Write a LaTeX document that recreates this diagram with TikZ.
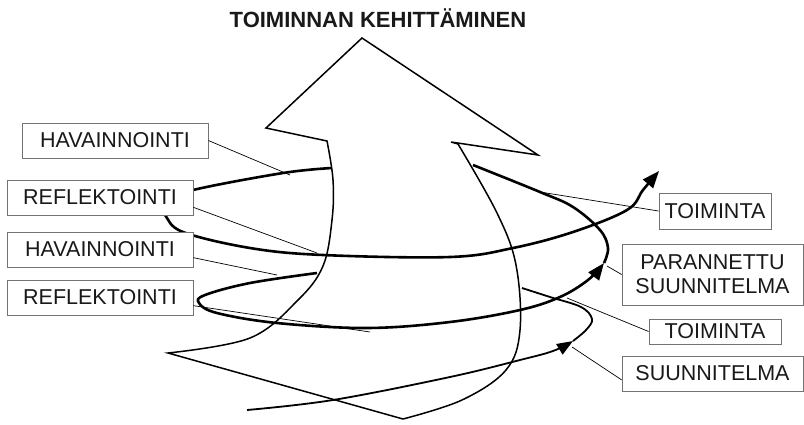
\documentclass[tikz,border=0pt]{standalone}
\usepackage{fontspec}
\setmainfont{Liberation Sans}
\usetikzlibrary{arrows.meta}

\begin{document}
\begin{tikzpicture}[
  x=1pt, y=-1pt,
  box/.style={draw=black!55, fill=white, line width=0.8pt, text=black!90,
              font=\fontsize{21.5}{24}\selectfont, inner sep=2pt, align=center},
  outline/.style={line width=1.5pt, line join=miter},
  loop/.style={line width=2.6pt},
  lowloop/.style={line width=1.8pt},
  leader/.style={line width=0.7pt},
  tip/.style={-{Triangle[length=17pt,width=13pt]}},
  smalltip/.style={-{Triangle[length=16pt,width=12pt]}}
]
\useasboundingbox (0,0) rectangle (804,424);

% === Title ===
\node[font=\fontsize{22}{26}\selectfont\bfseries, text=black!90, anchor=base] (title) at (378,27) {TOIMINNAN KEHITTÄMINEN};

% === Big arrow outline ===
\draw[outline] (403,419) -- (168,353)
  -- plot[smooth, tension=0.6] coordinates {(168,353) (250,338) (298,300) (323,266) (332,220) (333,180) (327,141)}
  -- (266,128) -- (362,38) -- (538,155) -- (451,142)
  -- plot[smooth, tension=0.6] coordinates {(458,144) (497,213) (516,265) (520,330) (506,370) (462,400) (403,419)};

% === Spiral ===
% upper loop
\draw[loop, tip] plot[smooth, tension=0.6] coordinates {(332,168) (283,173) (193,190) (158,203) (165,215) (183,232) (250,248) (323,255) (450,257) (513,248) (573,232) (627,210) (643,190) (659,171)};
% middle loop
\draw[loop, tip] plot[smooth, tension=0.6] coordinates {(317,273) (250,283) (205,295) (199,303) (217,313) (277,323) (367,328) (450,322) (520,310) (560,297) (588,280) (604,263)};
\draw[loop] plot[smooth, tension=0.6] coordinates {(604,263) (608,248) (600,230) (573,207) (540,192) (473,165)};
% lower loop
\draw[lowloop, smalltip] plot[smooth, tension=0.6] coordinates {(247,410) (333,400) (450,377) (520,360) (553,351) (573,341)};
\draw[lowloop] plot[smooth, tension=0.6] coordinates {(573,341) (586,330) (592,319) (581,307) (550,297) (522,288)};

% === Labels, left ===
\node[box, minimum width=186pt, minimum height=35pt] (hav1) at (115,140.5) {HAVAINNOINTI};
\node[box, minimum width=186pt, minimum height=35pt] (ref1) at (100,197.5) {REFLEKTOINTI};
\node[box, minimum width=186pt, minimum height=35pt] (hav2) at (100,249.5) {HAVAINNOINTI};
\node[box, minimum width=186pt, minimum height=35pt] (ref2) at (100,297.5) {REFLEKTOINTI};

% === Labels, right ===
\node[box, minimum width=112pt, minimum height=36pt] (toim1) at (715,211) {TOIMINTA};
\node[box, minimum width=181pt, minimum height=61pt] (paran) at (712.5,274.5) {PARANNETTU\\SUUNNITELMA};
\node[box, minimum width=132pt, minimum height=25pt] (toim2) at (715,331.5) {TOIMINTA};
\node[box, minimum width=181pt, minimum height=35pt] (suun) at (712.5,373.5) {SUUNNITELMA};

% leader ends on the spiral
\coordinate (havA) at (290,175);
\coordinate (refA) at (317,253);
\coordinate (havB) at (277,275);
\coordinate (refB) at (370,332);
\coordinate (toimA) at (540,192);
\coordinate (paranA) at (607,266);
\coordinate (toimB) at (567,298);
\coordinate (suunA) at (572,347);

\draw[leader] (hav1.east) -- (havA);
\draw[leader] (ref1.-6) -- (refA);
\draw[leader] (hav2.-5) -- (havB);
\draw[leader] (ref2.-5) -- (refB);
\draw[leader] (toim1.west) -- (toimA);
\draw[leader] (paran.west) -- (paranA);
\draw[leader] (toim2.west) -- (toimB);
\draw[leader] (suun.184) -- (suunA);

\end{tikzpicture}
\end{document}
